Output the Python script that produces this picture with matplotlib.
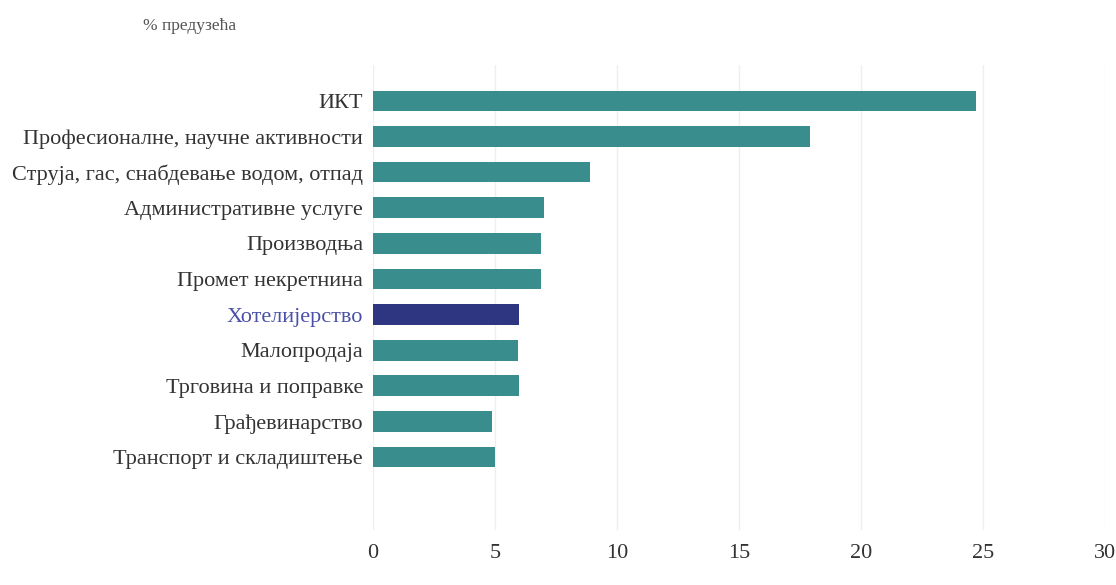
import matplotlib.pyplot as plt

# Удео предузећа по делатностима (%)
sektori = ['ИКТ', 'Професионалне, научне активности', 'Струја, гас, снабдевање водом, отпад',
           'Административне услуге', 'Производња', 'Промет некретнина', 'Хотелијерство',
           'Малопродаја', 'Трговина и поправке', 'Грађевинарство', 'Транспорт и складиштење']
vrednosti = [24.7, 17.9, 8.9, 7.0, 6.9, 6.9, 6.0, 5.95, 6.0, 4.9, 5.0]
istaknuto = 'Хотелијерство'
x_ticks = [0, 5, 10, 15, 20, 25, 30]

TEAL = '#398d8d'
NAVY = '#2e3682'
TEXT = '#333333'

plt.rcParams['font.family'] = ['Liberation Serif', 'DejaVu Serif']

fig = plt.figure(figsize=(11.16, 5.85), dpi=100)
ax = fig.add_axes([0.334, 0.094, 0.656, 0.795])

boje = [NAVY if s == istaknuto else TEAL for s in sektori]
ax.barh(range(len(sektori)), vrednosti, height=0.58, color=boje, zorder=2)

ax.set_xlim(0, 30)
ax.set_ylim(12.05, -1.01)
ax.set_xticks(x_ticks)
ax.set_xticklabels([str(t) for t in x_ticks], fontsize=16, color=TEXT)
ax.set_yticks(range(len(sektori)))
ax.set_yticklabels(sektori, fontsize=16, color=TEXT)
for lbl in ax.get_yticklabels():
    if lbl.get_text() == istaknuto:
        lbl.set_color('#4a50a8')

ax.tick_params(axis='both', length=0)
ax.tick_params(axis='x', pad=10)
ax.tick_params(axis='y', pad=7)

# Бледе вертикалне линије мреже
ax.grid(axis='x', color='#efefef', linewidth=1, zorder=0)
ax.set_axisbelow(True)
for s in ax.spines.values():
    s.set_visible(False)

fig.text(0.17, 0.955, '% предузећа', fontsize=12.5, color='#555555', ha='center', va='center')

fig.savefig('out.png', dpi=100, facecolor='white')
